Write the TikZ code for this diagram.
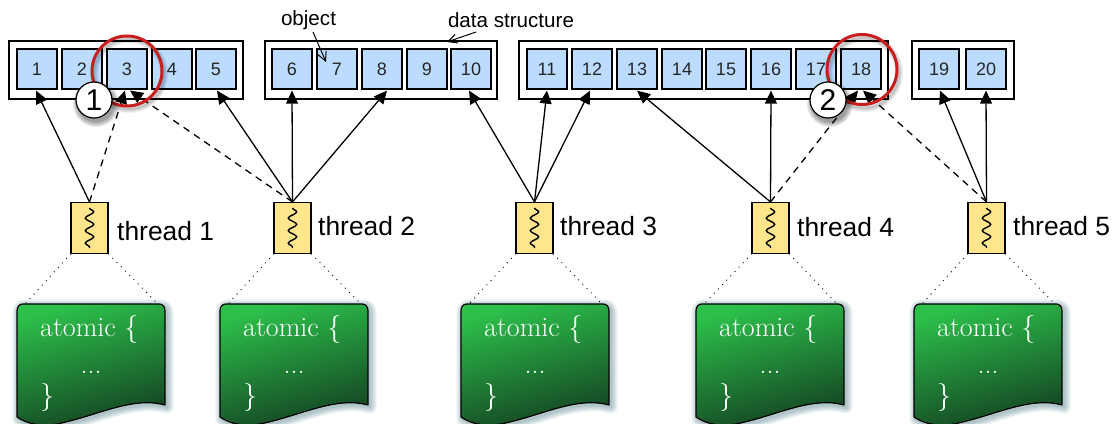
\documentclass[tikz,border=0pt]{standalone}
\usepackage{fontspec}
\setsansfont{Liberation Sans}
\usetikzlibrary{arrows.meta,decorations.pathmorphing,calc}
\definecolor{objblue}{RGB}{187,220,255}
\definecolor{thryellow}{RGB}{255,229,140}
\definecolor{ringred}{RGB}{200,30,30}
\definecolor{docg}{RGB}{44,192,74}
\definecolor{docd}{RGB}{20,66,34}
\definecolor{docshadow}{RGB}{30,90,100}
\tikzset{
  x=1pt,y=-1pt,
  frame/.style={draw=black,line width=1.1pt,fill=white,minimum height=58pt,inner sep=0pt},
  obj/.style={draw=black,line width=1.2pt,fill=objblue,minimum width=40pt,minimum height=40pt,inner sep=0pt,font=\sffamily\fontsize{18}{18}\selectfont,text=black!85},
  thr/.style={draw=black,line width=1.1pt,fill=thryellow,minimum width=37pt,minimum height=51pt,inner sep=0pt},
  thrlabel/.style={anchor=west,inner sep=0pt,font=\sffamily\fontsize{26.4}{26.4}\selectfont},
  squig/.style={line width=1.4pt,decorate,decoration={snake,amplitude=4.2pt,segment length=12.5pt}},
  link/.style={line width=1.3pt,-{Triangle[length=13pt,width=12pt]}},
  dlink/.style={link,dash pattern=on 7pt off 5.5pt},
  dotline/.style={line width=1.3pt,line cap=round,dash pattern=on 0pt off 6pt},
  ring/.style={circle,draw=ringred,line width=3pt,minimum size=70pt,inner sep=0pt},
  badge/.style={circle,draw=black,line width=1.2pt,fill=white,minimum size=36pt,inner sep=0pt,font=\sffamily\fontsize{30}{30}\selectfont},
  small/.style={inner sep=0pt,font=\sffamily\fontsize{20.6}{20.6}\selectfont},
  pointer/.style={line width=1pt,-{Straight Barb[length=9pt,width=9pt]}},
  doctext/.style={text=white,inner sep=0pt,font=\fontsize{28}{28}\selectfont},
}
% \docpage{name}{left x}{top y}
\newcommand{\docpage}[3]{%
  \def\docpath{(#2+6,#3) -- (#2+142,#3) .. controls (#2+146,#3) and (#2+148,#3+3) .. (#2+148,#3+7)
    -- (#2+148,#3+101) .. controls (#2+115,#3+92) and (#2+80,#3+112) .. (#2+40,#3+120)
    .. controls (#2+25,#3+123) and (#2+10,#3+120) .. (#2,#3+113) -- (#2,#3+7)
    .. controls (#2,#3+3) and (#2+2,#3) .. (#2+6,#3) -- cycle}%
  \foreach \k in {1,...,6}{\draw[shift={(2,2)},line width=\k*2.2pt,draw=docshadow,opacity=.07,line join=round] \docpath;}%
  \shade[top color=docg,bottom color=docd,shading angle=15] \docpath;%
  \draw[line width=1.2pt,line join=round] \docpath;%
  \coordinate (#1a) at (#2+8,#3);\coordinate (#1b) at (#2+141,#3);%
  \node[doctext,anchor=base west] (#1l1) at (#2+23,#3+32) {atomic \{};%
  \node[doctext,anchor=base] (#1l2) at (#2+74,#3+69) {...};%
  \node[doctext,anchor=base west] (#1l3) at (#2+23,#3+100) {\}};%
}
\begin{document}
\begin{tikzpicture}
\useasboundingbox (0,0) rectangle (1116,423);
% frames
\node[frame,minimum width=234pt] (f1) at (126,70) {};
\node[frame,minimum width=232pt] (f2) at (381,70) {};
\node[frame,minimum width=369pt] (f3) at (703.5,70) {};
\node[frame,minimum width=102pt] (f4) at (963,70) {};
% objects
\foreach \n/\cx in {1/37,2/82,3/127,4/172,5/216,6/292,7/337,8/382,9/427,10/471,
  11/547,12/592,13/637,14/682,15/726,16/771,17/816,18/861,19/939,20/986}{
  \node[obj] (o\n) at (\cx,69) {\n};
}
% threads
\foreach \n/\cx/\lx/\ly in {1/89.5/117/231,2/292.5/318/226,3/534.5/560/226,4/770.5/797/227,5/986.5/1013/226}{
  \node[thr] (t\n) at (\cx,228) {};
  \draw[squig] ([yshift=-6pt]t\n.north) -- ([yshift=6pt]t\n.south);
  \node[thrlabel] (tl\n) at (\lx,\ly) {thread \n};
}
% documents
\docpage{d1}{17}{304}
\docpage{d2}{220}{304}
\docpage{d3}{461}{304}
\docpage{d4}{696}{304}
\docpage{d5}{914}{304}
\foreach \n in {1,...,5}{
  \draw[dotline] (t\n.south west) -- (d\n a);
  \draw[dotline] (t\n.south east) -- (d\n b);
}
% connectors
\draw[link] (t1.north) -- ([xshift=-1pt,yshift=-1pt]o1.south);
\draw[dlink] (t1.north) -- ([xshift=-2pt,yshift=-1pt]o3.south);
\draw[dlink] (t2.north) -- ([xshift=3pt,yshift=-1pt]o3.south);
\draw[link] (t2.north) -- ([xshift=1pt,yshift=-1pt]o5.south);
\draw[link] (t2.north) -- ([yshift=-1pt]o6.south);
\draw[link] (t2.north) -- ([xshift=5pt,yshift=-1pt]o8.south);
\draw[link] (t3.north) -- ([xshift=-2pt,yshift=-1pt]o10.south);
\draw[link] (t3.north) -- ([yshift=-1pt]o11.south);
\draw[link] (t3.north) -- ([xshift=-2pt,yshift=-1pt]o12.south);
\draw[link] (t4.north) -- ([yshift=-1pt]o13.south);
\draw[link] (t4.north) -- ([yshift=-1pt]o16.south);
\draw[dlink] (t4.north) -- ([xshift=-3pt,yshift=-1pt]o18.south);
\draw[dlink] (t5.north) -- ([xshift=2pt,yshift=-1pt]o18.south);
\draw[link] (t5.north) -- ([xshift=1pt,yshift=-1pt]o19.south);
\draw[link] (t5.north) -- ([yshift=-1pt]o20.south);
% labels with pointers
\node[small] (lobj) at (308.5,20) {object};
\node[small] (lds) at (511,20) {data structure};
\coordinate (pobj) at (326,62);
\coordinate (pds) at (447,42);
\coordinate (sobj) at (313,32);
\coordinate (sds) at (476,32);
\draw[pointer] (sobj) -- (pobj);
\draw[pointer] (sds) -- (pds);
% rings
\foreach \k in {1,...,5}{
  \draw[black,opacity=.05,line width=\k*1.6pt] (129,74) circle[radius=35];
  \draw[black,opacity=.05,line width=\k*1.6pt] (864,73) circle[radius=35];
}
\node[ring] (r1) at (127,71) {};
\node[ring] (r2) at (862,69.5) {};
% badges
\foreach \k in {1,...,5}{
  \fill[black,opacity=.09] (96,104) circle[radius=17+\k*1.2];
  \fill[black,opacity=.09] (830,104) circle[radius=17+\k*1.2];
}
\node[badge] (b1) at (94,100) {1};
\node[badge] (b2) at (828,100) {2};
\end{tikzpicture}
\end{document}
